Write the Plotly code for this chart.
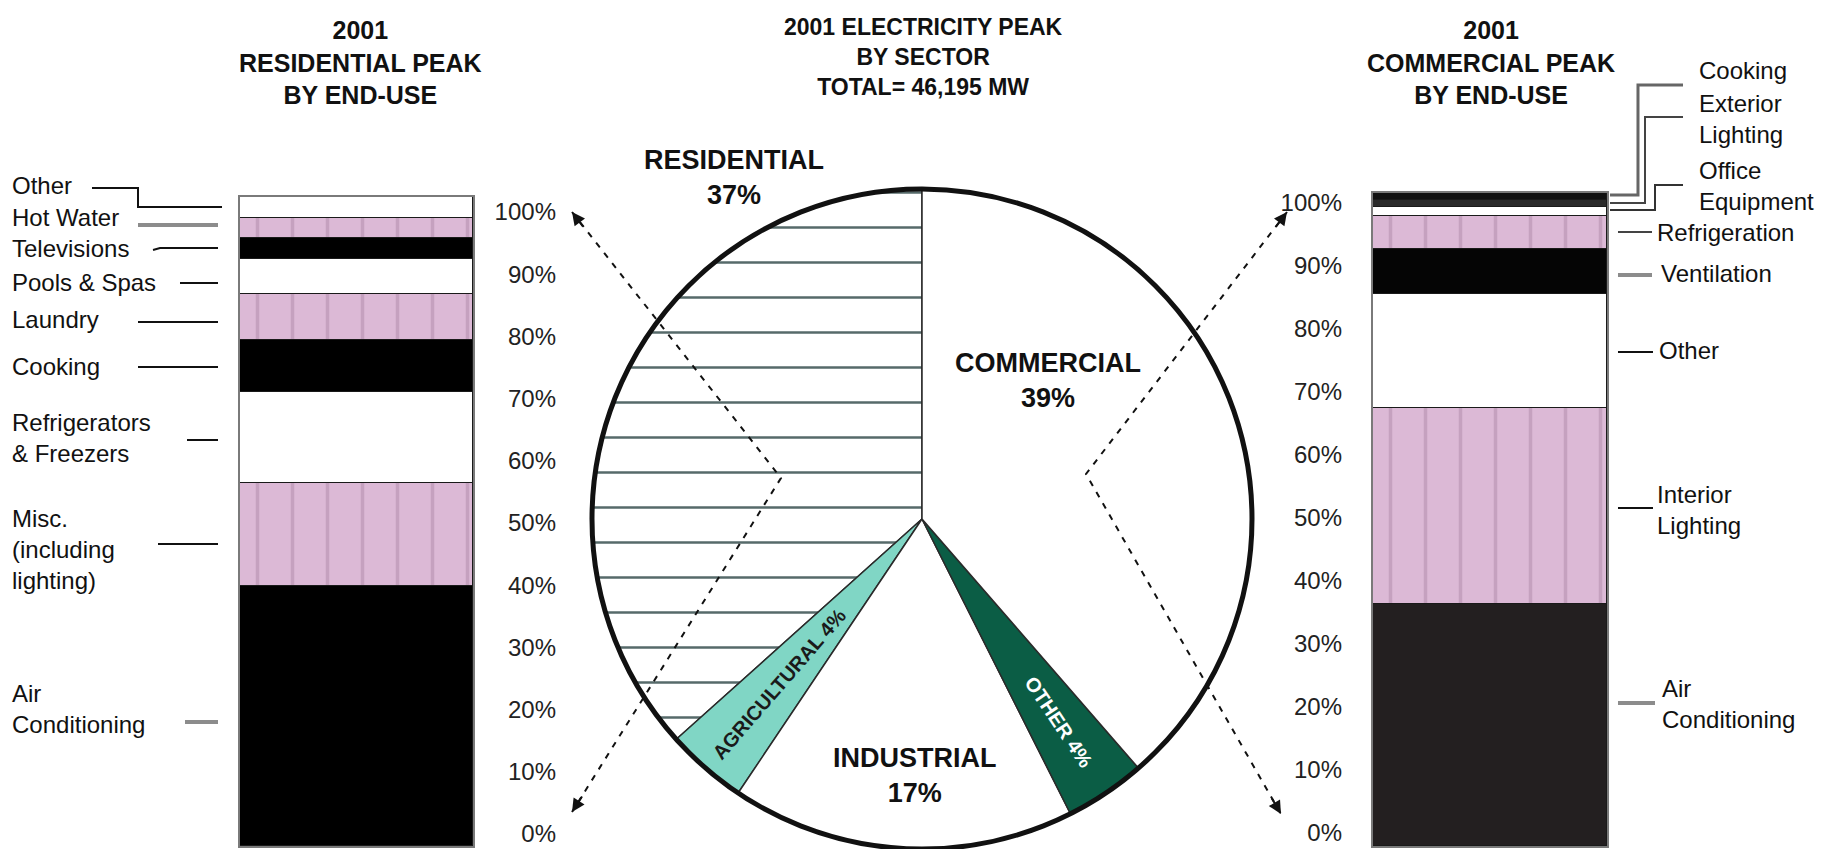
import math
import plotly.graph_objects as go

W, H = 1845, 849

# ---------------- data ----------------
res_categories = ["Air Conditioning", "Misc. (including lighting)", "Refrigerators & Freezers",
                  "Cooking", "Laundry", "Pools & Spas", "Televisions", "Hot Water", "Other"]
res_values = [40, 16, 14, 8, 7, 5.5, 3.2, 3, 3.3]

com_categories = ["Air Conditioning", "Interior Lighting", "Other", "Ventilation",
                  "Refrigeration", "Office Equipment", "Exterior Lighting", "Cooking"]
com_values = [37, 30, 17.5, 7, 5, 1.3, 1.1, 1.1]

sector_labels = ["Residential", "Agricultural", "Industrial", "Other", "Commercial"]
sector_values = [37, 4, 17, 4, 39]

tick_values = [0, 10, 20, 30, 40, 50, 60, 70, 80, 90, 100]
tick_labels = ["0%", "10%", "20%", "30%", "40%", "50%", "60%", "70%", "80%", "90%", "100%"]

# ---------------- styles ----------------
PINK = "#dcb9d6"
STRIPE = "#ad8aa7"
res_colors = ["#000000", PINK, "#ffffff", "#000000", PINK, "#ffffff", "#000000", PINK, "#ffffff"]
res_patterns = ["", "|", "", "", "|", "", "", "|", ""]
com_colors = ["#231f20", PINK, "#ffffff", "#050505", PINK, "#ffffff", "#2a2a2a", "#111111"]
com_patterns = ["", "|", "", "", "|", "", "", ""]
sector_colors = ["#e2efef", "#80d6c5", "#ffffff", "#0b5d45", "#ffffff"]
sector_patterns = ["-", "", "", "", ""]

FONT = "Liberation Sans, Arial, sans-serif"


def X(px):
    return px / W


def Y(py):
    return 1 - py / H


fig = go.Figure()

# stacked bars
for cat, val, col, pat in zip(res_categories, res_values, res_colors, res_patterns):
    fig.add_trace(go.Bar(
        x=["Residential"], y=[val], name=cat, width=1, xaxis="x", yaxis="y",
        marker=dict(color=col, line=dict(color="#1a1a1a", width=1),
                    pattern=dict(shape=pat, fgcolor=STRIPE, size=35, solidity=0.1)),
        showlegend=False))
for cat, val, col, pat in zip(com_categories, com_values, com_colors, com_patterns):
    fig.add_trace(go.Bar(
        x=["Commercial"], y=[val], name=cat, width=1, xaxis="x2", yaxis="y2",
        marker=dict(color=col, line=dict(color="#1a1a1a", width=1),
                    pattern=dict(shape=pat, fgcolor=STRIPE, size=35, solidity=0.1)),
        showlegend=False))

# helper (empty) traces so the percent scales render
fig.add_trace(go.Scatter(x=[], y=[], xaxis="x3", yaxis="y3", showlegend=False, hoverinfo="skip"))
fig.add_trace(go.Scatter(x=[], y=[], xaxis="x4", yaxis="y4", showlegend=False, hoverinfo="skip"))

# pie: first slice (Residential) runs counter-clockwise from 12 o'clock
cx, cy, r = 922, 519, 330
pie_domain = dict(x=[X(cx - r), X(cx + r)], y=[max(0, Y(cy + r)), Y(cy - r)])
total = sum(sector_values)
first_share = sector_values[0] / total * 360
fig.add_trace(go.Pie(
    labels=sector_labels, values=sector_values, sort=False, direction="counterclockwise",
    rotation=-first_share, textinfo="none", domain=pie_domain, showlegend=False,
    marker=dict(colors=sector_colors, line=dict(color="#2a2a2a", width=1.5),
                pattern=dict(shape=sector_patterns, fgcolor="#566a6a", size=35, solidity=0.07))))
# thick outline circle
fig.add_trace(go.Pie(
    labels=["Total"], values=[total], sort=False, textinfo="none",
    domain=pie_domain, showlegend=False, hoverinfo="skip",
    marker=dict(colors=["rgba(0,0,0,0)"], line=dict(color="#111111", width=5))))

hidden = dict(showgrid=False, zeroline=False, showticklabels=False, ticks="")
frame = dict(showline=True, mirror=True, linecolor="#7a7a7a", linewidth=2)
pct_axis = dict(range=[0, 100], tickvals=tick_values, ticktext=tick_labels, showgrid=False,
                zeroline=False, showline=False, ticks="", ticklabelstandoff=0,
                ticklabeloverflow="allow", tickfont=dict(size=24, color="#222222"))

fig.update_layout(
    width=W, height=H, margin=dict(l=0, r=0, t=0, b=0, autoexpand=False),
    paper_bgcolor="white", plot_bgcolor="white",
    barmode="stack", bargap=0, showlegend=False,
    font=dict(family=FONT, color="#111111"),
    xaxis=dict(domain=[X(240), X(473)], range=[-0.5, 0.5], anchor="y", type="category", **hidden, **frame),
    yaxis=dict(domain=[Y(846), Y(197)], range=[0, 100], anchor="x", **hidden, **frame),
    xaxis2=dict(domain=[X(1373), X(1607)], range=[-0.5, 0.5], anchor="y2", type="category", **hidden, **frame),
    yaxis2=dict(domain=[Y(846), Y(193)], range=[0, 100], anchor="x2", **hidden, **frame),
    xaxis3=dict(domain=[X(557), X(560)], anchor="y3", visible=False),
    yaxis3=dict(domain=[Y(834), Y(212)], anchor="x3", **pct_axis),
    xaxis4=dict(domain=[X(1343), X(1346)], anchor="y4", visible=False),
    yaxis4=dict(domain=[Y(833), Y(203)], anchor="x4", **pct_axis),
)

annotations = []


def text(t, x, y, size=24, bold=False, anchor="left", color="#111111", angle=0):
    annotations.append(dict(
        text=f"<b>{t}</b>" if bold else t, x=X(x), y=Y(y), xref="paper", yref="paper",
        xanchor=anchor, yanchor="middle", align=anchor if anchor != "center" else "center",
        showarrow=False, textangle=angle, borderpad=0,
        font=dict(family=FONT, size=size, color=color)))


def slice_label(t, idx, rad, color):
    """Place a rotated label along the middle of pie slice idx."""
    start = sum(sector_values[:idx]) / total * 360
    mid = math.radians(start + sector_values[idx] / total * 360 / 2)  # ccw from 12 o'clock
    px = cx - rad * math.sin(mid)
    py = cy - rad * math.cos(mid)
    below = math.degrees(math.atan2(-math.cos(mid), abs(math.sin(mid))))
    ang = -below if math.sin(mid) > 0 else below
    text(t, px, py, 20, True, "center", color, ang)


# titles
text("2001<br>RESIDENTIAL PEAK<br>BY END-USE", 360, 63, 25, True, "center")
text("2001<br>COMMERCIAL PEAK<br>BY END-USE", 1491, 63, 25, True, "center")
text("2001 ELECTRICITY PEAK<br>BY SECTOR<br>TOTAL= 46,195 MW", 923, 57, 23, True, "center")

# pie labels
text("RESIDENTIAL<br>37%", 734, 177, 27, True, "center")
text("COMMERCIAL<br>39%", 1048, 380, 27, True, "center")
text("INDUSTRIAL<br>17%", 915, 775, 27, True, "center")
slice_label("AGRICULTURAL 4%", 1, 218, "#1a1a1a")
slice_label("OTHER 4%", 3, 245, "#ffffff")

# residential end-use labels
for t, y in [("Other", 185), ("Hot Water", 217), ("Televisions", 248), ("Pools & Spas", 283),
             ("Laundry", 319), ("Cooking", 367), ("Refrigerators<br>& Freezers", 438),
             ("Misc.<br>(including<br>lighting)", 549), ("Air<br>Conditioning", 709)]:
    text(t, 11, y)

# commercial end-use labels
for t, x, y in [("Cooking", 1698, 70), ("Exterior<br>Lighting", 1698, 119),
                ("Office<br>Equipment", 1698, 186), ("Refrigeration", 1656, 233),
                ("Ventilation", 1660, 273), ("Other", 1658, 350),
                ("Interior<br>Lighting", 1656, 510), ("Air<br>Conditioning", 1661, 704)]:
    text(t, x, y)

# arrow heads at the ends of dashed connectors
for (tx, ty, ax, ay) in [(572, 212, 12, 16), (572, 812, 11, -17),
                         (1287, 212, -12, 16), (1281, 814, -10, -17)]:
    annotations.append(dict(text="", x=X(tx), y=Y(ty), xref="paper", yref="paper",
                            showarrow=True, arrowhead=2, arrowsize=1.3, arrowwidth=2,
                            arrowcolor="#111111", ax=ax, ay=ay))

fig.update_layout(annotations=annotations)


def path(points):
    return "M " + " L ".join(f"{X(a):.5f},{Y(b):.5f}" for a, b in points)


shapes = []
# dashed connectors
for pts in [[(572, 212), (781, 478), (572, 812)], [(1287, 212), (1086, 474), (1281, 814)]]:
    shapes.append(dict(type="path", path=path(pts), xref="paper", yref="paper",
                       line=dict(color="#111111", width=2, dash="6px,7px")))

# leader lines
leaders = [
    ([(92, 188), (138, 188), (138, 207), (222, 207)], "#111111", 2),
    ([(138, 225), (218, 225)], "#8c8c8c", 4),
    ([(153, 250), (160, 248), (218, 248)], "#111111", 2),
    ([(180, 283), (218, 283)], "#111111", 2),
    ([(138, 322), (218, 322)], "#111111", 2),
    ([(138, 367), (218, 367)], "#111111", 2),
    ([(187, 440), (218, 440)], "#111111", 2),
    ([(158, 544), (218, 544)], "#111111", 2),
    ([(185, 722), (218, 722)], "#8c8c8c", 4),
    ([(1610, 195), (1638, 195), (1638, 85), (1683, 85)], "#666666", 3),
    ([(1610, 203), (1645, 203), (1645, 117), (1683, 117)], "#444444", 2),
    ([(1610, 210), (1655, 210), (1655, 185), (1683, 185)], "#333333", 2),
    ([(1618, 232), (1652, 232)], "#444444", 2),
    ([(1618, 275), (1652, 275)], "#8c8c8c", 4),
    ([(1618, 352), (1653, 352)], "#111111", 2),
    ([(1618, 508), (1653, 508)], "#111111", 2),
    ([(1618, 703), (1655, 703)], "#8c8c8c", 4),
]
for pts, col, w in leaders:
    shapes.append(dict(type="path", path=path(pts), xref="paper", yref="paper",
                       line=dict(color=col, width=w)))

fig.update_layout(shapes=shapes)

page_fix = (
    "var s=document.createElement('style');"
    "s.innerHTML='html,body{margin:0!important;padding:0!important;overflow:hidden!important;"
    "width:1845px;height:849px;} .plotly-graph-div{position:absolute!important;left:0;top:0;}';"
    "document.head.appendChild(s);"
)
fig.write_html("out.html", config={"displayModeBar": False}, post_script=page_fix)
